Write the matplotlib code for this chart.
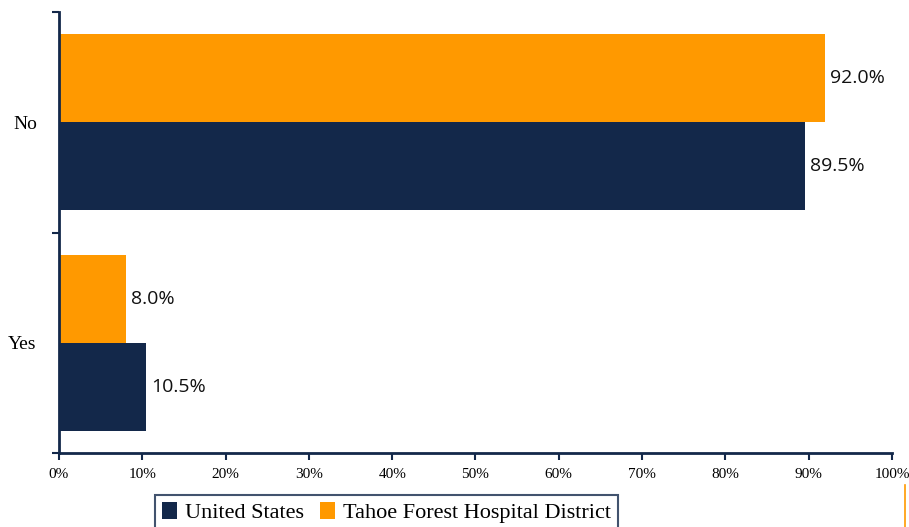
import matplotlib
matplotlib.use("Agg")
import matplotlib.pyplot as plt
from matplotlib.lines import Line2D
import numpy as np

categories = ["Yes", "No"]
us_values = [10.5, 89.5]
tahoe_values = [8.0, 92.0]
series_names = ["United States", "Tahoe Forest Hospital District"]
x_ticks = list(range(0, 101, 10))

navy = "#13284A"
orange = "#FF9900"

fig = plt.figure(figsize=(9.09, 5.27), dpi=100)
ax = fig.add_axes([0.0649, 0.1404, 0.9164, 0.8368])

y = np.arange(len(categories))
h = 0.40
b_us = ax.barh(y - h / 2, us_values, height=h, color=navy, label=series_names[0])
b_th = ax.barh(y + h / 2, tahoe_values, height=h, color=orange, label=series_names[1])

# value labels just past the bar ends
for bars, vals in ((b_us, us_values), (b_th, tahoe_values)):
    for bar, v in zip(bars, vals):
        ax.text(v + 0.6, bar.get_y() + bar.get_height() / 2, f"{v:.1f}%",
                va="center", ha="left", fontsize=14, family="Open Sans", color="#111111")

ax.set_xlim(0, 100)
ax.set_ylim(-0.5, 1.5)
ax.set_xticks(x_ticks)
ax.set_xticklabels([f"{t}%" for t in x_ticks], family="Liberation Serif", fontsize=11)
ax.tick_params(axis="x", direction="out", length=5, width=1.5, color=navy, pad=6)

# category boundaries carry the ticks, labels sit at the centres
ax.set_yticks([-0.5, 0.5, 1.5])
ax.set_yticklabels([])
ax.set_yticks(y, minor=True)
ax.set_yticklabels(categories, minor=True, family="Liberation Serif", fontsize=14)
ax.tick_params(axis="y", which="major", direction="out", length=5, width=1.5, color=navy)
ax.tick_params(axis="y", which="minor", length=0, pad=16)

for s in ("top", "right"):
    ax.spines[s].set_visible(False)
for s in ("left", "bottom"):
    ax.spines[s].set_color(navy)
    ax.spines[s].set_linewidth(2)

handles = [b_us, b_th]
leg = fig.legend(handles, series_names, loc="upper center", bbox_to_anchor=(0.425, 0.061),
                 borderaxespad=0, ncol=2, frameon=True, fancybox=False,
                 handlelength=0.7, handleheight=0.8, handletextpad=0.35,
                 columnspacing=0.7, borderpad=0.3,
                 prop={"family": "Liberation Serif", "size": 16})
leg.get_frame().set_edgecolor(navy)
leg.get_frame().set_linewidth(1.5)

fig.add_artist(Line2D([0.9955, 0.9955], [0.0, 0.08], color=orange, lw=1.2))

fig.savefig("out.png", dpi=100)
